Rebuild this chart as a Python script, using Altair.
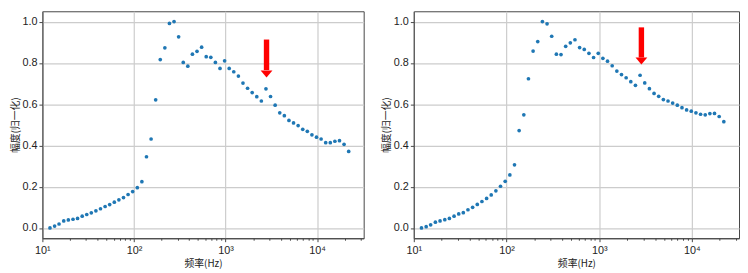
import altair as alt
import pandas as pd

# frequencies (Hz), ~1/6-octave spacing
freq = [12.1, 13.6, 15.2, 17.1, 19.2, 21.6, 24.2, 27.2, 30.5, 34.2,
        38.4, 43.1, 48.4, 54.3, 61.0, 68.4, 76.8, 86.2, 96.8, 108.7,
        122.0, 136.9, 153.7, 172.5, 193.6, 217.3, 243.9, 273.8, 307.3, 345.0,
        387.2, 434.6, 487.9, 547.6, 614.7, 690.0, 774.4, 869.3, 975.8, 1095,
        1229, 1380, 1549, 1739, 1952, 2191, 2459, 2760, 3098, 3478,
        3904, 4382, 4918, 5521, 6197, 6956, 7808, 8764, 9837, 11042,
        12394, 13912, 15616, 17528, 19675, 22084]

amp_left = [0.000, 0.009, 0.019, 0.034, 0.039, 0.042, 0.046, 0.057, 0.065, 0.073,
            0.083, 0.093, 0.104, 0.113, 0.125, 0.136, 0.147, 0.162, 0.176, 0.195,
            0.224, 0.345, 0.431, 0.621, 0.816, 0.873, 0.991, 1.000, 0.926, 0.802,
            0.784, 0.842, 0.856, 0.876, 0.830, 0.827, 0.802, 0.773, 0.810, 0.773,
            0.757, 0.736, 0.702, 0.677, 0.656, 0.636, 0.615, 0.674, 0.637, 0.595,
            0.558, 0.544, 0.521, 0.509, 0.496, 0.478, 0.468, 0.451, 0.440, 0.431,
            0.413, 0.413, 0.420, 0.423, 0.405, 0.371]

amp_right = [0.000, 0.006, 0.015, 0.028, 0.034, 0.040, 0.046, 0.057, 0.068, 0.074,
             0.088, 0.100, 0.114, 0.128, 0.143, 0.160, 0.180, 0.202, 0.226, 0.257,
             0.306, 0.472, 0.548, 0.723, 0.857, 0.903, 1.000, 0.989, 0.929, 0.842,
             0.840, 0.880, 0.897, 0.912, 0.874, 0.865, 0.846, 0.826, 0.846, 0.822,
             0.808, 0.786, 0.760, 0.743, 0.728, 0.709, 0.691, 0.740, 0.703, 0.675,
             0.652, 0.638, 0.622, 0.615, 0.605, 0.595, 0.583, 0.572, 0.566, 0.558,
             0.551, 0.548, 0.554, 0.555, 0.540, 0.515]

assert len(freq) == len(amp_left) == len(amp_right) == 66

# red arrows: x position, top of shaft, bottom of shaft, tip
arrow_left = {"f": [2800], "top": [0.913], "base": [0.765], "tip": [0.729]}
arrow_right = {"f": [2850], "top": [0.972], "base": [0.826], "tip": [0.792]}

x_ticks = [10, 20, 30, 40, 50, 60, 70, 80, 90,
           100, 200, 300, 400, 500, 600, 700, 800, 900,
           1000, 2000, 3000, 4000, 5000, 6000, 7000, 8000, 9000,
           10000, 20000, 30000]
y_ticks = [0.0, 0.2, 0.4, 0.6, 0.8, 1.0]

DEC = "abs(log(datum.value)/LN10 - round(log(datum.value)/LN10)) < 0.01"
SUP = "['⁰','¹','²','³','⁴','⁵'][round(log(datum.value)/LN10)]"


def panel(amp, arrow, width):
    df = pd.DataFrame({"f": freq, "a": amp})
    adf = pd.DataFrame(arrow)
    xs = alt.Scale(type="log", domain=[10, 32200], nice=False)
    ys = alt.Scale(domain=[-0.05, 1.05], nice=False, zero=False)
    xaxis = alt.Axis(
        values=x_ticks,
        labelExpr=f"{DEC} ? '10' + {SUP} : ''",
        gridOpacity={"condition": {"test": DEC, "value": 1}, "value": 0},
        tickSize={"condition": {"test": DEC, "value": 3.5}, "value": 2},
        title="频率(Hz)",
        labelFlush=False,
        labelOverlap=False,
        labelPadding=3,
        titlePadding=3,
    )
    yaxis = alt.Axis(values=y_ticks, format=".1f", title="幅度(归一化)",
                     tickSize=3.5, labelPadding=2, titlePadding=2)
    pts = alt.Chart(df).mark_circle(size=14, color="#1f77b4", opacity=1).encode(
        x=alt.X("f:Q", scale=xs, axis=xaxis, title="频率(Hz)"),
        y=alt.Y("a:Q", scale=ys, axis=yaxis, title="幅度(归一化)"),
    )
    shaft = alt.Chart(adf).mark_rule(color="#ff0000", strokeWidth=5.5, strokeCap="butt").encode(
        x=alt.X("f:Q"),
        y=alt.Y("top:Q"),
        y2="base:Q",
    )
    head = alt.Chart(adf).mark_point(
        shape="M-1,-1.17L1,-1.17L0,0Z", size=144, filled=True,
        color="#ff0000", opacity=1, strokeWidth=0,
    ).encode(
        x=alt.X("f:Q"),
        y=alt.Y("tip:Q"),
    )
    return alt.layer(pts, shaft, head).properties(width=width, height=231)


chart = alt.hconcat(
    panel(amp_left, arrow_left, 327),
    panel(amp_right, arrow_right, 331),
    spacing=16,
).properties(
    padding={"left": 1, "top": 0, "right": 0, "bottom": 0},
    background="white",
).configure_view(
    stroke="#444444", strokeWidth=1,
).configure_axis(
    domainColor="#444444",
    tickColor="#444444",
    labelColor="#222222",
    gridColor="#cccccc",
    gridWidth=1.2,
    labelFont="Liberation Sans, DejaVu Sans",
    labelFontSize=11,
    titleFont="Noto Sans CJK SC",
    titleFontSize=10,
    titleFontWeight="normal",
    titleColor="#222222",
)

chart.save("out.html", embed_options={"renderer": "svg", "actions": False})
